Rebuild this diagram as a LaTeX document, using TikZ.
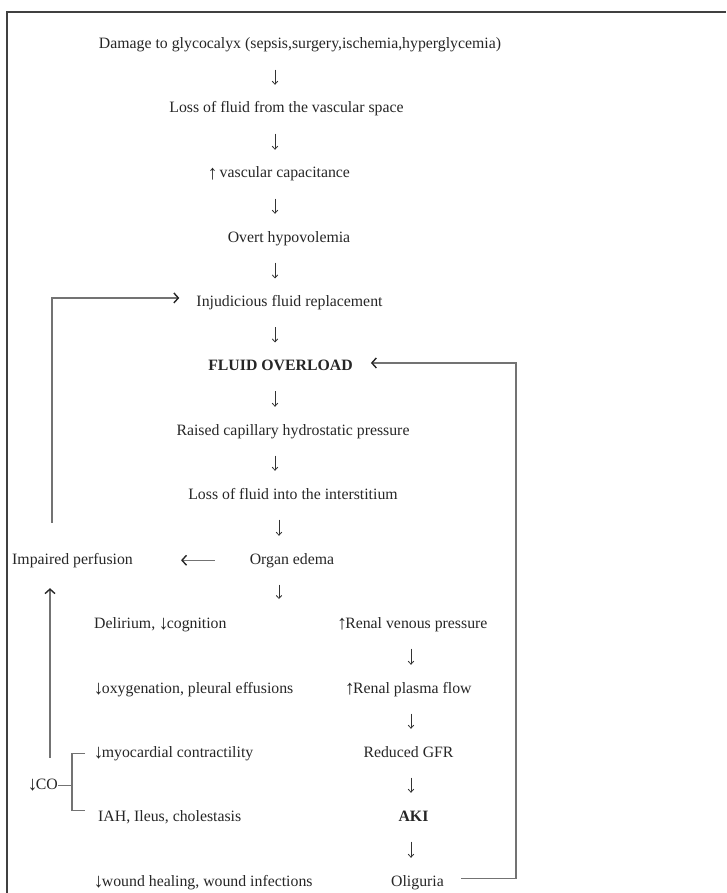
\documentclass[tikz,border=0pt]{standalone}
\usepackage{fontspec}
\setmainfont{Liberation Serif}
\usetikzlibrary{arrows.meta,calc}
\newcommand\myUp{\kern-0.5pt\raisebox{-1.5pt}{\fontsize{20}{20}\selectfont ↑}\kern-1.8pt}
\newcommand\myDn{\kern-0.5pt\raisebox{-1.5pt}{\fontsize{20}{20}\selectfont ↓}\kern-1.8pt}
\begin{document}
\begin{tikzpicture}[x=1pt,y=-1pt,
  txt/.style={font=\fontsize{15.8}{18}\selectfont, text=black!85, inner sep=0pt,
              text height=11pt, text depth=3.5pt},
  dn/.style={line width=0.8pt, draw=black!80, shorten <=17pt, shorten >=17pt,
             -{Straight Barb[length=3pt,width=5.5pt]}},
  fb/.style={line width=1.1pt, draw=black!55,
             -{Straight Barb[length=4.5pt,width=10pt,line width=1.4pt,color=black!85]}},
  br/.style={line width=1.1pt, draw=black!55},
  frame/.style={line width=1.2pt, draw=black!75}]
\useasboundingbox (0,0) rectangle (726,893);
\draw[frame] (7,893) -- (7,12) -- (726,12);

% columns for the small down arrows
\coordinate (cA) at (275,0);
\coordinate (cB) at (279,0);
\coordinate (cR) at (411,0);
\coordinate (lx) at (52,0);
\coordinate (ux) at (50,0);
\coordinate (bx) at (72,0);
\coordinate (rx) at (516,0);

% main chain
\node[txt, anchor=base] (dam)  at (300,49)    {Damage to glycocalyx (sepsis,surgery,ischemia,hyperglycemia)};
\node[txt, anchor=base] (loss) at (286.5,113) {Loss of fluid from the vascular space};
\node[txt, anchor=base] (vasc) at (279,178)   {\myUp{} vascular capacitance};
\node[txt, anchor=base] (hypo) at (289,242)   {Overt hypovolemia};
\node[txt, anchor=base] (inj)  at (289.5,306.7) {Injudicious fluid replacement};
\node[txt, anchor=base, font=\fontsize{15.8}{18}\selectfont\bfseries] (fo) at (280.5,370.7) {FLUID OVERLOAD};
\node[txt, anchor=base] (rais) at (293,435)   {Raised capillary hydrostatic pressure};
\node[txt, anchor=base] (inter) at (293,499)  {Loss of fluid into the interstitium};
\node[txt, anchor=base] (edema) at (292,564)  {Organ edema};
\node[txt, anchor=base west] (imp) at (12,564) {Impaired perfusion};

% left column
\node[txt, anchor=base west] (del)  at (94,628) {Delirium, \myDn{}cognition};
\node[txt, anchor=base west] (oxy)  at (94,693) {\myDn{}oxygenation, pleural effusions};
\node[txt, anchor=base west] (myo)  at (94,757) {\myDn{}myocardial contractility};
\node[txt, anchor=base west] (co)   at (28,789) {\myDn{}CO};
\node[txt, anchor=base west] (iah)  at (98,821) {IAH, Ileus, cholestasis};
\node[txt, anchor=base west] (wnd)  at (94,886) {\myDn{}wound healing, wound infections};

% right column
\node[txt, anchor=base] (ven) at (412.5,628) {\myUp{}Renal venous pressure};
\node[txt, anchor=base] (pla) at (408.5,693) {\myUp{}Renal plasma flow};
\node[txt, anchor=base] (gfr) at (408.5,757) {Reduced GFR};
\node[txt, anchor=base, font=\fontsize{15.8}{18}\selectfont\bfseries] (aki) at (413.5,821) {AKI};
\node[txt, anchor=base] (oli) at (417.5,886) {Oliguria};

% small down arrows
\draw[dn] (dam.south -| cA)  -- (loss.north -| cA);
\draw[dn] (loss.south -| cA) -- (vasc.north -| cA);
\draw[dn] (vasc.south -| cA) -- (hypo.north -| cA);
\draw[dn] (hypo.south -| cA) -- (inj.north -| cA);
\draw[dn] (inj.south -| cA)  -- (fo.north -| cA);
\draw[dn] (fo.south -| cA)   -- (rais.north -| cA);
\draw[dn] (rais.south -| cA) -- (inter.north -| cA);
\draw[dn] (inter.south -| cB) -- (edema.north -| cB);
\coordinate (edd) at (279,599);
\draw[dn, shorten >=0pt] (edema.south -| cB) -- (edd);
\draw[dn] (ven.south -| cR) -- (pla.north -| cR);
\draw[dn] (pla.south -| cR) -- (gfr.north -| cR);
\draw[dn] (gfr.south -| cR) -- (aki.north -| cR);
\draw[dn] (aki.south -| cR) -- (oli.north -| cR);

% feedback loops
\draw[fb, shorten <=30pt] (imp.north -| lx) |- ($(inj.west)+(-17,-5)$);
\draw[fb, shorten <=35pt, shorten >=48pt] (edema.west) -- (imp.east);
\draw[fb, shorten <=20pt, shorten >=20.5pt] (co.north -| ux) -- (imp.south -| ux);
\draw[fb] ($(oli.east)+(17,-4)$) -| ($(rx |- fo.east)+(0,-4)$) -- ($(fo.east)+(18,-4)$);

% bracket for CO
\draw[br] (co.east) -- (bx |- co.east);
\draw[br] ($(bx |- myo.west)+(13,0)$) -- (bx |- myo.west)
          -- ($(bx |- iah.west)+(0,-7)$) -- ($(bx |- iah.west)+(13,-7)$);
\end{tikzpicture}
\end{document}
